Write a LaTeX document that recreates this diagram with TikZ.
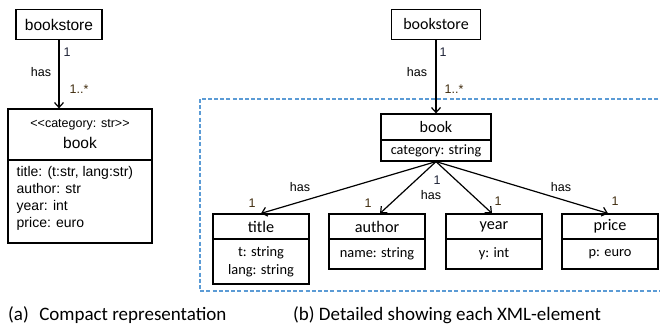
\documentclass[tikz,border=0pt]{standalone}
\usepackage{fontspec}
\setmainfont{Carlito}
\newfontfamily\arial{Liberation Sans}
\usetikzlibrary{arrows.meta}
\definecolor{multc}{RGB}{65,45,15}
\definecolor{multd}{RGB}{30,35,55}
\definecolor{dashc}{RGB}{91,155,213}
\tikzset{
  box/.style={draw, line width=1.2pt, inner sep=0pt},
  arr/.style={line width=1.2pt, -{Straight Barb[length=5pt,width=9pt,line width=1.2pt]}},
  lab/.style={font=\arial\fontsize{12.5}{14}\selectfont, inner sep=0pt},
  mul/.style={lab, text=multc},
  muld/.style={lab, text=multd},
  captext/.style={font=\fontsize{19}{22}\selectfont, inner sep=0pt, anchor=west},
}
\begin{document}
\begin{tikzpicture}[x=1pt,y=-1pt]
\useasboundingbox (0,0) rectangle (660,329);
% ---------- left: compact ----------
\node[box, minimum width=86pt, minimum height=30pt, font=\arial\fontsize{15.5}{18}\selectfont] (bs1) at (59,24.5) {bookstore};
\node[box, minimum width=144pt, minimum height=51pt] (bk1) at (80,134.5) {};
\node[box, minimum width=144pt, minimum height=83pt] (bk1b) at (80,201.5) {};
\node[inner sep=0pt, font=\arial\fontsize{12.5}{14}\selectfont] (st1) at (80,125) {<<category: str>>};
\node[inner sep=0pt, font=\arial\fontsize{15.5}{18}\selectfont] (bn1) at (80,143) {book};
\node[inner sep=0pt, anchor=north west, align=left, font=\arial\fontsize{14}{17}\selectfont] (at1) at (16.5,166.5) {title: (t:str, lang:str)\\author: str\\year: int\\price: euro};
\draw[arr] (bs1.south) -- (bs1.south |- bk1.north);
\node[muld] (m1a) at (67,52) {1};
\node[lab] (h1) at (41,72) {has};
\node[mul] (m1b) at (79,89) {1..*};
\node[captext] (ca) at (8,315) {(a)\hspace{0.55em}Compact representation};
% ---------- right: detailed ----------
\draw[dashc, line width=1.1pt, dash pattern=on 4pt off 2.2pt] (200,99) rectangle (668,291);
\node[box, minimum width=89pt, minimum height=30pt, font=\fontsize{16}{19}\selectfont] (bs2) at (436,24.5) {bookstore};
\node[box, minimum width=110pt, minimum height=26pt, font=\fontsize{16}{19}\selectfont] (bk2) at (436,127) {book};
\node[box, minimum width=110pt, minimum height=21pt, font=\fontsize{14.2}{17}\selectfont] (bk2b) at (436,150.5) {category: string};
\draw[arr] (bs2.south) -- (bk2.north);
\node[muld] (m2a) at (443,52) {1};
\node[lab] (h2) at (417,72) {has};
\node[mul] (m2b) at (454,89) {1..*};
% children
\node[box, minimum width=96pt, minimum height=25pt, font=\fontsize{16.2}{19}\selectfont] (tt) at (261,226.5) {title};
\node[box, minimum width=96pt, minimum height=45pt, align=center, font=\fontsize{14.4}{18}\selectfont] (ttb) at (261,261.5) {t: string\\lang: string};
\node[box, minimum width=96pt, minimum height=25pt, font=\fontsize{16.2}{19}\selectfont] (au) at (377,226.5) {author};
\node[box, minimum width=96pt, minimum height=30pt, font=\fontsize{14.4}{17}\selectfont] (aub) at (377,254) {name: string};
\node[box, minimum width=96pt, minimum height=25pt, font=\fontsize{16.2}{19}\selectfont] (yr) at (494,226.5) {year};
\node[box, minimum width=96pt, minimum height=30pt, font=\fontsize{14.4}{17}\selectfont] (yrb) at (494,254) {y: int};
\node[box, minimum width=96pt, minimum height=25pt, font=\fontsize{16.2}{19}\selectfont] (pr) at (610,226.5) {price};
\node[box, minimum width=96pt, minimum height=30pt, font=\fontsize{14.4}{17}\selectfont] (prb) at (610,254) {p: euro};
\draw[arr] (bk2b.south) -- (tt.north);
\draw[arr] (bk2b.south) -- ([xshift=3pt]au.north);
\draw[arr] (bk2b.south) -- ([xshift=-2pt]yr.north);
\draw[arr] (bk2b.south) -- ([xshift=-2pt]pr.north);
\node[lab] (h3) at (300,187) {has};
\node[mul] (m3) at (252,203) {1};
\node[mul] (m4) at (368,203) {1};
\node[lab] (h4) at (431,195) {has};
\node[muld] (m5) at (437,180) {1};
\node[mul] (m6) at (498,201) {1};
\node[lab] (h5) at (561,187) {has};
\node[mul] (m7) at (615,201) {1};
\node[captext] (cb) at (293,315) {(b) Detailed showing each XML-element};
\end{tikzpicture}
\end{document}
